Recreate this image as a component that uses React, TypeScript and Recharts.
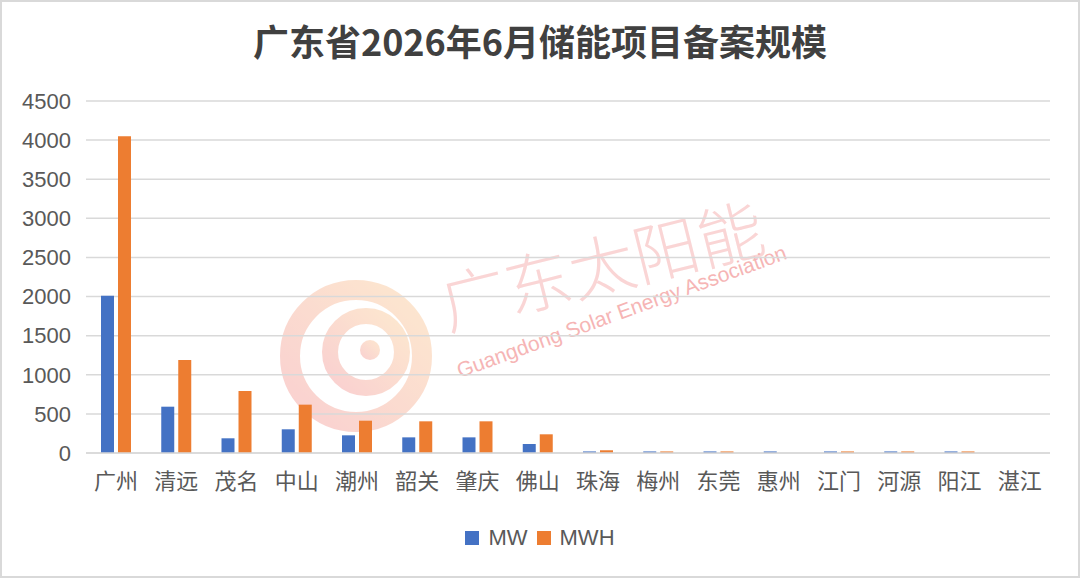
import { Bar, BarChart, CartesianGrid, Legend, XAxis, YAxis } from "recharts";

const cities = ["广州", "清远", "茂名", "中山", "潮州", "韶关", "肇庆", "佛山", "珠海", "梅州", "东莞", "惠州", "江门", "河源", "阳江", "湛江"];
const mw = [2010, 592, 188, 303, 226, 200, 200, 115, 20, 20, 20, 20, 20, 20, 20, 0];
const mwh = [4050, 1189, 793, 618, 413, 405, 405, 239, 35, 20, 20, 0, 20, 20, 20, 0];
const yTicks = [0, 500, 1000, 1500, 2000, 2500, 3000, 3500, 4000, 4500];

const data = cities.map((city, i) => ({ city, MW: mw[i], MWH: mwh[i] }));

const gray = "#595959";
const cjk = "'Noto Sans CJK SC', 'Noto Sans', sans-serif";
const latin = "'Liberation Sans', Arial, sans-serif";

function Watermark() {
  return (
    <svg width={1080} height={578} style={{ position: "absolute", left: 0, top: 0, pointerEvents: "none" }}>
      <defs>
        <linearGradient id="wm" x1="0" y1="1" x2="1" y2="0">
          <stop offset="0%" stopColor="#f28b8b" />
          <stop offset="100%" stopColor="#fbc58a" />
        </linearGradient>
      </defs>
      <g opacity={0.4}>
        <circle cx={356} cy={356} r={66} fill="none" stroke="url(#wm)" strokeWidth={20} />
        <circle cx={366} cy={352} r={36} fill="none" stroke="url(#wm)" strokeWidth={16} />
        <circle cx={370} cy={350} r={10} fill="url(#wm)" />
      </g>
      <text x={460} y={378} fontSize={21} fill="#f4a3a3" opacity={0.8} fontFamily={latin} transform="rotate(-20 460 378)">
        Guangdong Solar Energy Association
      </text>
      <text x={448} y={330} fontSize={66} fill="#f4a3a3" opacity={0.45} fontFamily={cjk} fontWeight={300} transform="rotate(-14 448 330)">
        广东太阳能
      </text>
    </svg>
  );
}

function LegendContent({ payload }: { payload?: Array<{ value: string; color: string }> }) {
  return (
    <div style={{ display: "flex", justifyContent: "center", alignItems: "center", gap: 9 }}>
      {(payload ?? []).map((p) => (
        <div key={p.value} style={{ display: "flex", alignItems: "center", gap: 9 }}>
          <span style={{ display: "inline-block", width: 14, height: 14, background: p.color }} />
          <span style={{ color: gray, fontSize: 22, fontFamily: latin, lineHeight: "24px" }}>{p.value}</span>
        </div>
      ))}
    </div>
  );
}

export default function App() {
  return (
    <div style={{ position: "relative", width: 1080, height: 578, background: "#fff" }}>
      <style>{"body{margin:0}"}</style>
      <div
        style={{
          position: "absolute",
          inset: 0,
          border: "2px solid #d9d9d9",
          boxSizing: "border-box",
          pointerEvents: "none",
        }}
      />
      <div
        style={{
          position: "absolute",
          top: 14,
          left: 0,
          width: 1080,
          textAlign: "center",
          fontFamily: cjk,
          fontWeight: 700,
          fontSize: 36,
          lineHeight: "52px",
          color: "#404040",
        }}
      >
        广东省2026年6月储能项目备案规模
      </div>
      <Watermark />
      <BarChart
        width={1080}
        height={578}
        data={data}
        margin={{ top: 101, right: 30, bottom: 0, left: 0 }}
        barGap={4}
        barSize={13}
        style={{ position: "absolute", left: 0, top: 0 }}
      >
        <CartesianGrid vertical={false} stroke="#d9d9d9" strokeWidth={1.5} />
        <XAxis
          dataKey="city"
          axisLine={{ stroke: "#d9d9d9", strokeWidth: 1.5 }}
          tickLine={false}
          tickSize={0}
          tickMargin={20}
          height={60}
          interval={0}
          tick={{ fill: gray, fontSize: 22, fontFamily: cjk }}
        />
        <YAxis
          domain={[0, 4500]}
          ticks={yTicks}
          width={86}
          axisLine={false}
          tickLine={false}
          tickSize={0}
          tickMargin={15}
          tick={{ fill: gray, fontSize: 22, fontFamily: latin }}
        />
        <Legend
          verticalAlign="bottom"
          height={65}
          content={(props: any) => <LegendContent payload={props.payload} />}
          wrapperStyle={{ top: 526, left: 0, width: 1080 }}
        />
        <Bar dataKey="MW" fill="#4472C4" isAnimationActive={false} />
        <Bar dataKey="MWH" fill="#ED7D31" isAnimationActive={false} />
      </BarChart>
    </div>
  );
}
